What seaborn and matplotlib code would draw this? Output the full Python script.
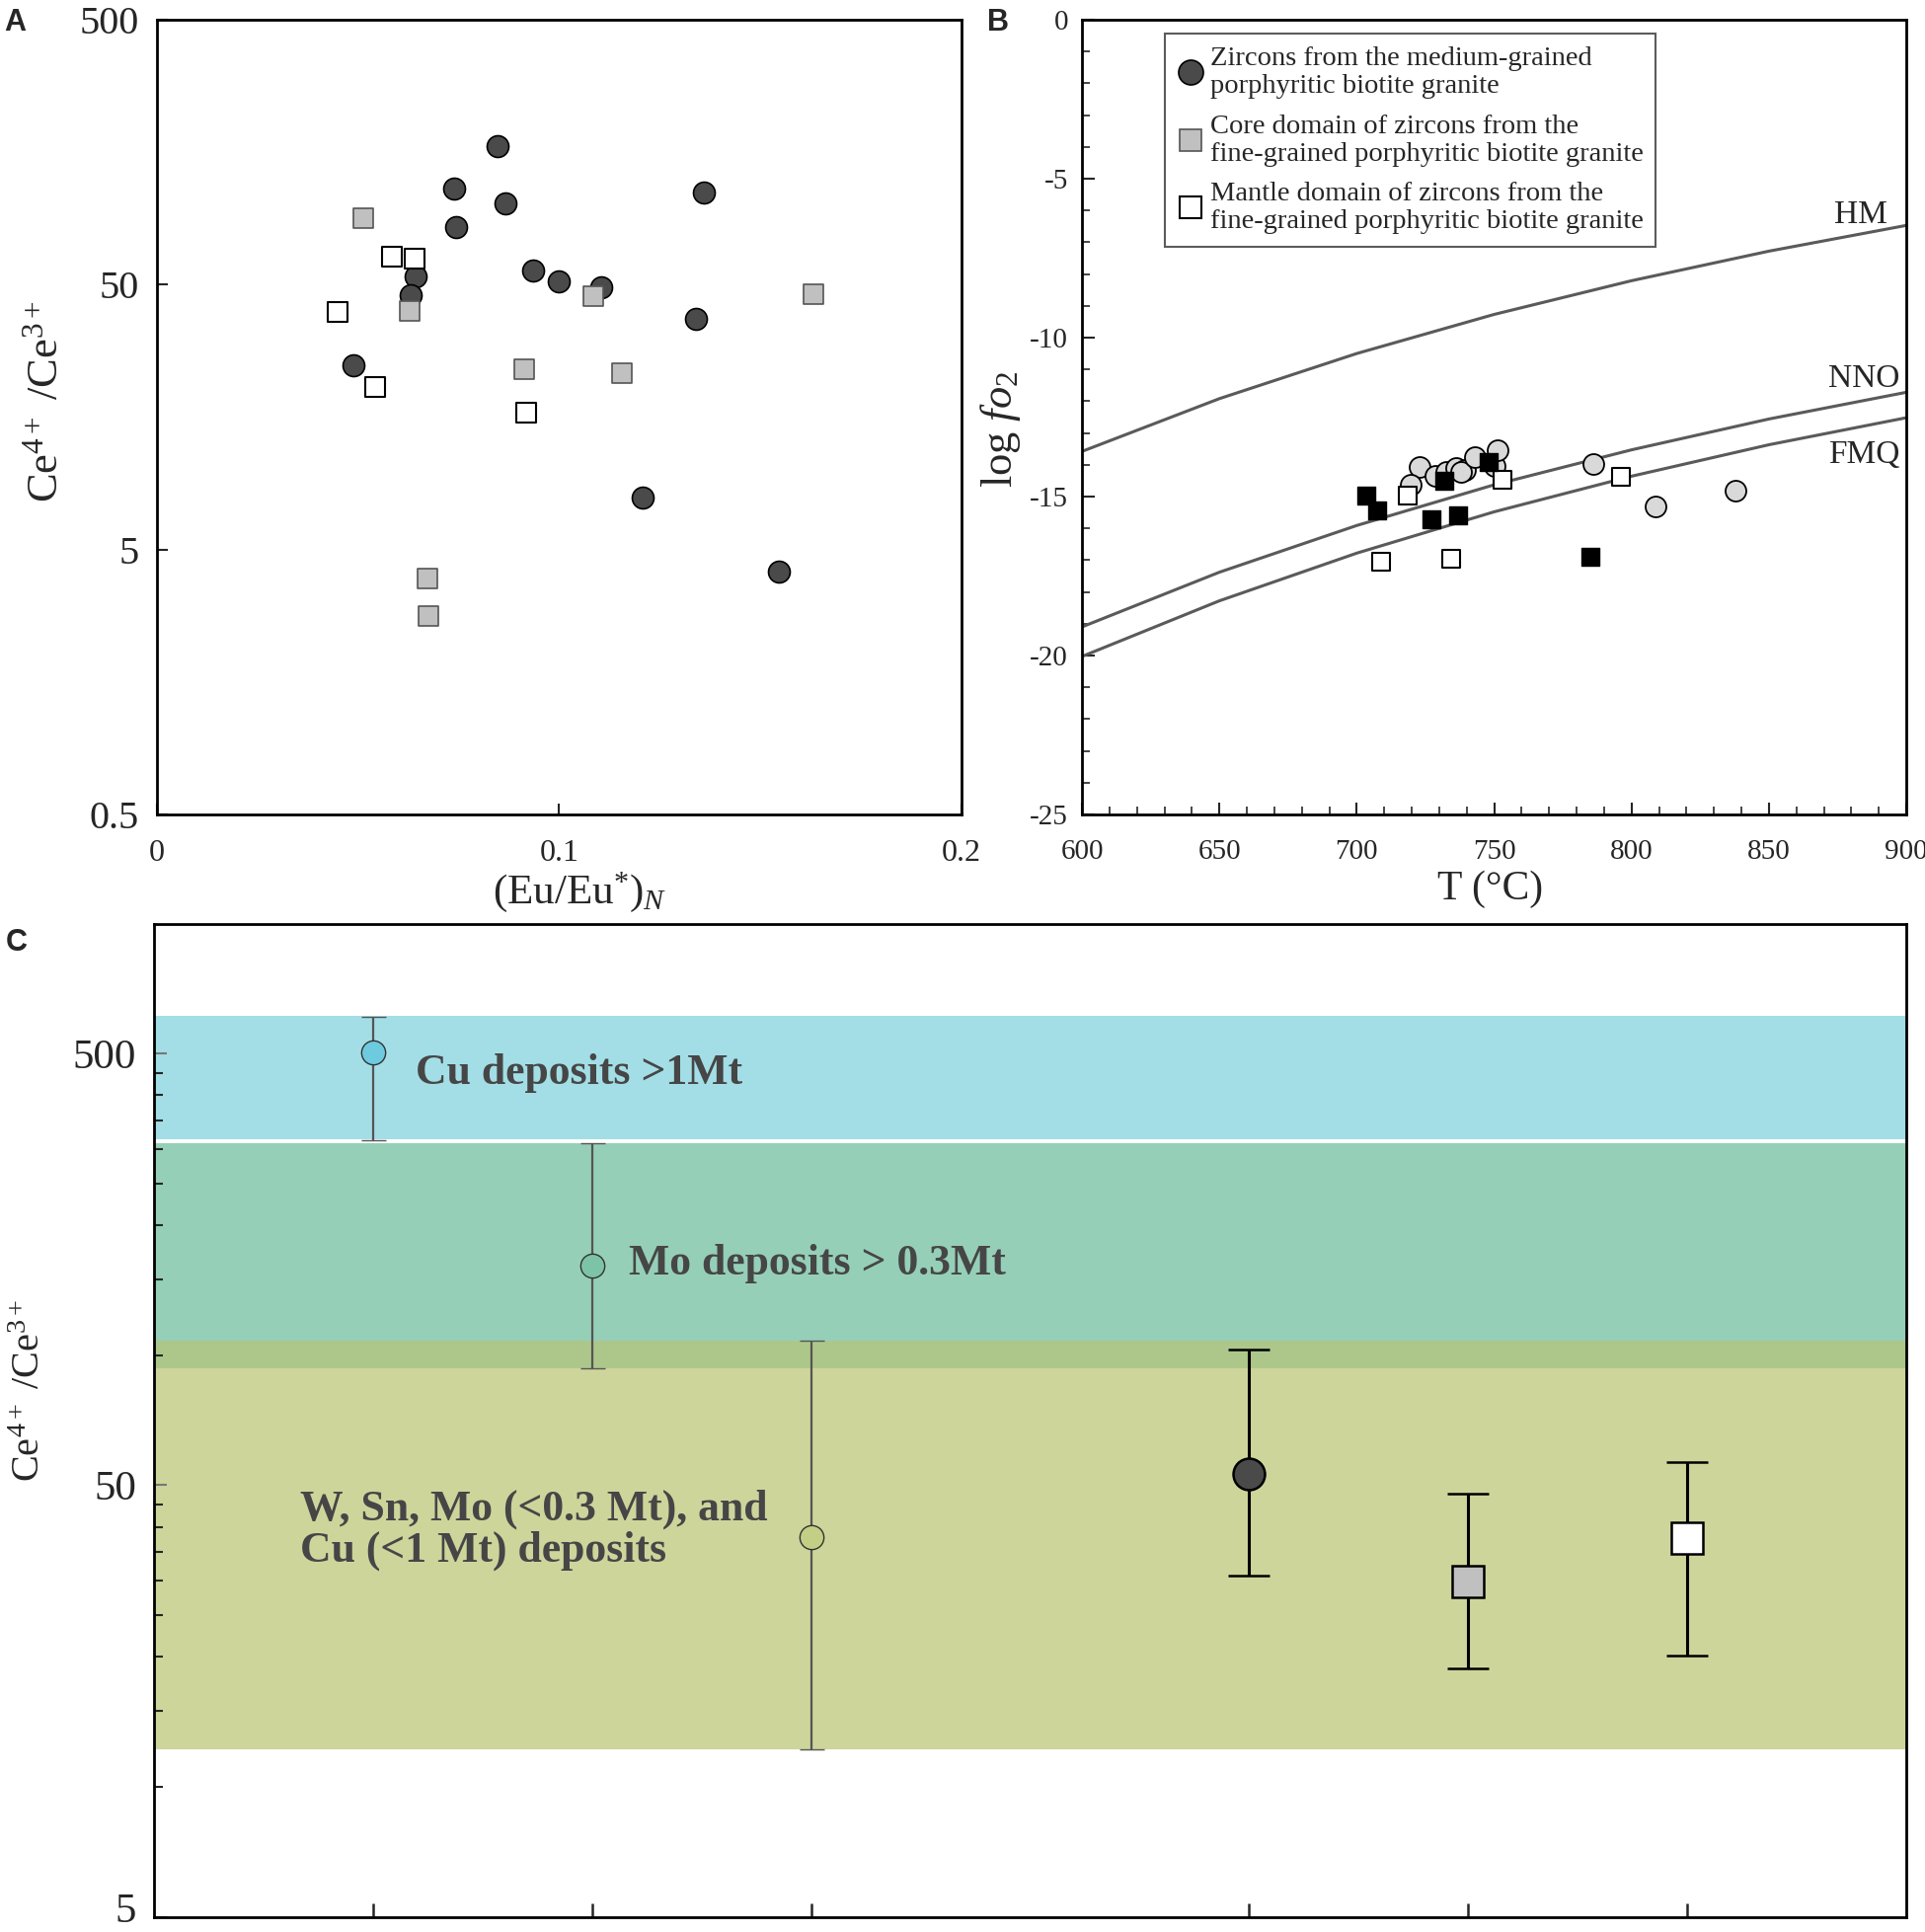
import numpy as np
import pandas as pd
import matplotlib
matplotlib.use("Agg")
import matplotlib.pyplot as plt
from matplotlib.lines import Line2D
from matplotlib.ticker import NullLocator, MultipleLocator, FixedLocator
from matplotlib.transforms import ScaledTranslation
import seaborn as sns

# ---- Panel A: Ce4+/Ce3+ vs (Eu/Eu*)N ----
a_med_eu = [0.0847, 0.0740, 0.0867, 0.0745, 0.1359, 0.0936, 0.1000, 0.1104,
            0.0644, 0.0631, 0.1340, 0.0489, 0.1208, 0.1547]
a_med_ce = [166, 115, 101.5, 82.5, 111, 56.7, 51.4, 48.7,
            53.7, 45.7, 37.1, 24.9, 7.88, 4.13]
a_core_eu = [0.0513, 0.0629, 0.1085, 0.1631, 0.0913, 0.1156, 0.0672, 0.0676]
a_core_ce = [89.3, 39.8, 45.4, 46.1, 24.0, 23.2, 3.89, 2.81]
a_mant_eu = [0.0585, 0.0641, 0.0450, 0.0544, 0.0918]
a_mant_ce = [63.6, 62.6, 39.4, 20.5, 16.4]

# ---- Panel B: log fO2 vs T ----
b_med_t = [722.9, 719.7, 728.6, 732.7, 736.1, 739.3, 737.9, 743.0, 750.3,
           751.2, 786.2, 808.6, 838.0]
b_med_fo2 = [-14.08, -14.62, -14.34, -14.23, -14.10, -14.16, -14.23, -13.77,
             -14.03, -13.54, -13.98, -15.32, -14.82]
b_core_t = [703.5, 707.3, 732.0, 727.3, 736.9, 748.2, 785.2]
b_core_fo2 = [-14.96, -15.42, -14.49, -15.70, -15.60, -13.92, -16.90]
b_mant_t = [718.7, 709.0, 734.2, 753.2, 796.3]
b_mant_fo2 = [-14.96, -17.06, -16.95, -14.47, -14.39]

buffer_t = [600, 650, 700, 750, 800, 850, 900]
hm_fo2 = [-13.58, -11.92, -10.50, -9.27, -8.21, -7.28, -6.47]
nno_fo2 = [-19.10, -17.38, -15.91, -14.63, -13.53, -12.56, -11.72]
fmq_fo2 = [-20.03, -18.28, -16.78, -15.48, -14.36, -13.37, -12.52]

# ---- Panel C: Ce4+/Ce3+ ranges ----
band_names = ["Cu deposits >1Mt", "Mo deposits > 0.3Mt",
              "W, Sn, Mo (<0.3 Mt), and\nCu (<1 Mt) deposits"]
band_low = [316, 93, 12.2]
band_high = [612, 310, 108.3]
c_pos = [1, 2, 3, 5, 6, 7]
c_mid = [503, 161, 37.9, 53.1, 29.9, 37.7]
c_low = [315, 93, 12.2, 30.9, 18.8, 20.1]
c_high = [608, 309, 108, 103, 47.7, 56.4]

sns.set_theme(style="ticks")
plt.rcParams["font.family"] = ["Liberation Serif", "DejaVu Serif"]
plt.rcParams["mathtext.fontset"] = "custom"
plt.rcParams["mathtext.rm"] = "Liberation Serif"
plt.rcParams["mathtext.it"] = "Liberation Serif:italic"
plt.rcParams["axes.unicode_minus"] = False
plt.rcParams["axes.linewidth"] = 2
plt.rcParams["axes.edgecolor"] = "black"

W, H = 1950, 1957
fig = plt.figure(figsize=(W / 100, H / 100), dpi=100)
axA = fig.add_axes([158.6 / W, 1 - 825 / H, 815.4 / W, 805 / H])
axB = fig.add_axes([1096 / W, 1 - 825 / H, 835 / W, 805 / H])
axC = fig.add_axes([156 / W, 1 - 1941.5 / H, 1775 / W, 1006 / H])

dark = "#4a4a4a"
gray = "#c0c0c0"
light = "#d9d9d9"

# ---------------- A ----------------
sns.scatterplot(x=a_med_eu, y=a_med_ce, marker="o", s=250, color=dark,
                edgecolor="black", linewidth=1.2, ax=axA, zorder=3)
sns.scatterplot(x=a_core_eu, y=a_core_ce, marker="s", s=190, color=gray,
                edgecolor="#555555", linewidth=1.2, ax=axA, zorder=3)
sns.scatterplot(x=a_mant_eu, y=a_mant_ce, marker="s", s=190, color="white",
                edgecolor="black", linewidth=1.5, ax=axA, zorder=3)
axA.set_yscale("log")
axA.set_xlim(0, 0.2)
axA.set_ylim(0.5, 500)
axA.set_xticks([0, 0.1, 0.2])
axA.set_xticklabels(["0", "0.1", "0.2"], fontsize=23)
axA.set_yticks([0.5, 5, 50, 500])
axA.set_yticklabels(["0.5", "5", "50", "500"], fontsize=29)
axA.yaxis.set_minor_locator(NullLocator())
axA.tick_params(axis="x", direction="in", length=8, width=1.5, pad=18)
axA.tick_params(axis="y", direction="in", length=8, width=1.5, pad=13)
axA.set_xlabel(r"(Eu/Eu$^{*}$)$_{\mathit{N}}$", fontsize=31)
axA.set_ylabel(r"Ce$^{4+}$ /Ce$^{3+}$", fontsize=32)
axA.xaxis.set_label_coords(0.525, -0.07)
axA.yaxis.set_label_coords(-0.112, 0.52)

# ---------------- B ----------------
sns.lineplot(x=buffer_t, y=hm_fo2, color="#5a5a5a", lw=2.2, ax=axB)
sns.lineplot(x=buffer_t, y=nno_fo2, color="#5a5a5a", lw=2.2, ax=axB)
sns.lineplot(x=buffer_t, y=fmq_fo2, color="#5a5a5a", lw=2.2, ax=axB)
sns.scatterplot(x=b_med_t, y=b_med_fo2, marker="o", s=228, color=light,
                edgecolor="black", linewidth=1.3, ax=axB, zorder=3)
sns.scatterplot(x=b_core_t, y=b_core_fo2, marker="s", s=169, color="black",
                edgecolor="black", linewidth=1.0, ax=axB, zorder=4)
sns.scatterplot(x=b_mant_t, y=b_mant_fo2, marker="s", s=169, color="white",
                edgecolor="black", linewidth=1.5, ax=axB, zorder=3)
axB.set_xlim(600, 900)
axB.set_ylim(-25, 0)
axB.xaxis.set_major_locator(MultipleLocator(50))
axB.xaxis.set_minor_locator(MultipleLocator(10))
axB.yaxis.set_major_locator(MultipleLocator(5))
axB.yaxis.set_minor_locator(MultipleLocator(1))
axB.set_xticklabels([f"{int(v)}" for v in axB.get_xticks()], fontsize=21)
axB.set_yticklabels([f"{int(v)}" for v in axB.get_yticks()], fontsize=21)
axB.tick_params(which="major", direction="in", length=9, width=1.5)
axB.tick_params(which="minor", direction="in", length=6, width=1.2)
axB.tick_params(axis="x", which="both", pad=18)
axB.tick_params(axis="y", which="both", pad=10)
axB.set_xlabel("T (°C)", fontsize=30)
axB.set_ylabel(r"log $\mathit{fo}_{2}$", fontsize=32)
axB.xaxis.set_label_coords(0.495, -0.07)
axB.yaxis.set_label_coords(-0.072, 0.485)
axB.text(893, -6.4, "HM", fontsize=24, ha="right", va="baseline")
axB.text(897.5, -11.55, "NNO", fontsize=24, ha="right", va="baseline")
axB.text(897.5, -13.95, "FMQ", fontsize=24, ha="right", va="baseline")

handles = [
    Line2D([], [], ls="", marker="o", markersize=18, markerfacecolor=dark,
           markeredgecolor="black", markeredgewidth=1.2),
    Line2D([], [], ls="", marker="s", markersize=16, markerfacecolor=gray,
           markeredgecolor="#555555", markeredgewidth=1.2),
    Line2D([], [], ls="", marker="s", markersize=16, markerfacecolor="white",
           markeredgecolor="black", markeredgewidth=1.5),
]
labels = ["Zircons from the medium-grained\nporphyritic biotite granite",
          "Core domain of zircons from the\nfine-grained porphyritic biotite granite",
          "Mantle domain of zircons from the\nfine-grained porphyritic biotite granite"]
leg = axB.legend(handles, labels, loc="upper left", bbox_to_anchor=(0.1006, 0.9826),
                 borderaxespad=0, fontsize=20.5, frameon=True, fancybox=False,
                 handlelength=0.9, handletextpad=0.25, labelspacing=0.55,
                 borderpad=0.45)
leg.get_frame().set_edgecolor("#333333")
leg.get_frame().set_linewidth(1.5)
for t in leg.get_texts():
    t.set_linespacing(1.16)

# ---------------- C ----------------
band_colors = ["#a3dee6", "#96cfb8", "#cdd59b"]
for lo, hi, col in zip(band_low, band_high, band_colors):
    axC.axhspan(lo, hi, color=col, lw=0, zorder=0)
axC.axhspan(band_low[1], band_high[2], color="#adc78b", lw=0, zorder=0)

point_face = ["#6dcadf", "#7cc3a8", "#c3cf85", dark, gray, "white"]
point_marker = ["o", "o", "o", "o", "s", "s"]
point_size = [17.5, 17.5, 17.5, 23, 23, 23]
for i in range(len(c_pos)):
    thin = i < 3
    axC.errorbar(c_pos[i], c_mid[i],
                 yerr=[[c_mid[i] - c_low[i]], [c_high[i] - c_mid[i]]],
                 fmt=point_marker[i], markersize=point_size[i],
                 markerfacecolor=point_face[i],
                 markeredgecolor="#333333" if thin else "black",
                 markeredgewidth=1.0 if thin else 1.8,
                 ecolor="#555555" if thin else "black",
                 elinewidth=1.6 if thin else 2.2,
                 capsize=9 if thin else 15,
                 capthick=1.6 if thin else 2.2, zorder=3)

axC.set_yscale("log")
axC.set_xlim(0, 8)
axC.set_ylim(5, 1000)
axC.set_xticks([1, 2, 3, 5, 6, 7])
axC.set_xticklabels([])
axC.set_yticks([5, 50, 500])
axC.set_yticklabels(["5", "50", "500"], fontsize=31)
axC.yaxis.set_minor_locator(FixedLocator(list(range(10, 50, 5)) + list(range(100, 500, 50))))
axC.yaxis.set_minor_formatter(plt.NullFormatter())
axC.tick_params(axis="x", direction="in", length=10, width=1.8)
axC.tick_params(axis="y", which="major", direction="in", length=9, width=1.5,
                color="#777777", pad=13)
axC.tick_params(axis="y", which="minor", direction="in", length=6.5, width=1.5)
axC.set_ylabel(r"Ce$^{4+}$ /Ce$^{3+}$", fontsize=29)
axC.yaxis.set_label_coords(-0.06, 0.53)
# lift the lowest tick label a little so it stays inside the figure
low_lbl = axC.get_yticklabels()[0]
low_lbl.set_transform(low_lbl.get_transform() + ScaledTranslation(0, 7 / 72, fig.dpi_scale_trans))

txt_style = dict(fontsize=31.5, fontweight="bold", color="#464646", va="center", ha="left")
axC.text(1.194, 450, band_names[0], **txt_style)
axC.text(2.169, 163, band_names[1], **txt_style)
axC.text(0.665, 39.3, band_names[2], linespacing=1.05, **txt_style)

# panel letters
for x, y, s in [(4, 8, "A"), (1000, 8, "B"), (6, 940, "C")]:
    fig.text(x / W, 1 - y / H, s, fontsize=22, fontweight="bold",
             family=["Liberation Sans", "DejaVu Sans"], ha="left", va="top")

fig.savefig("out.png", dpi=100)
